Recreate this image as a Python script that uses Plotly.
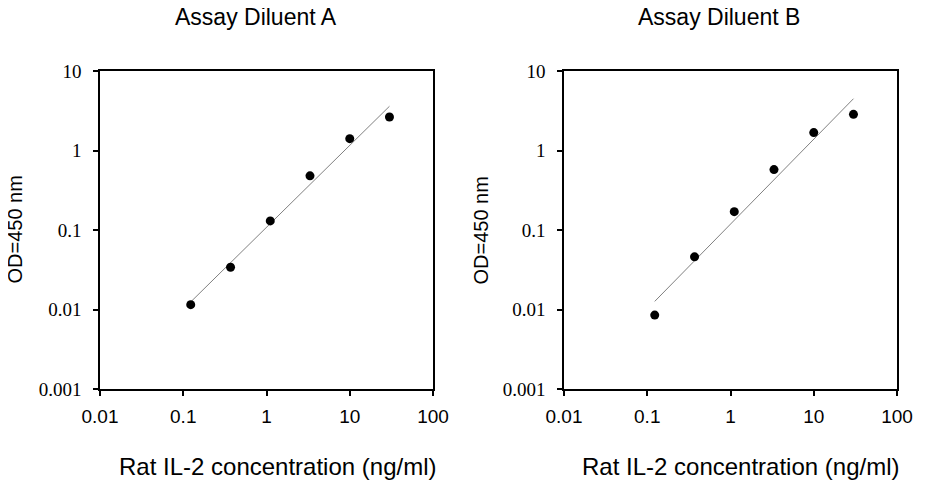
import numpy as np
import plotly.graph_objects as go

# standard curve, 3-fold dilutions (ng/ml)
conc = [0.123, 0.37, 1.11, 3.33, 10, 30]
od_diluent_a = [0.0115, 0.034, 0.13, 0.48, 1.41, 2.64]
od_diluent_b = [0.0085, 0.046, 0.17, 0.575, 1.68, 2.85]

panel_titles = ["Assay Diluent A", "Assay Diluent B"]
x_tickvals = [0.01, 0.1, 1, 10, 100]
x_ticktext = ["0.01", "0.1", "1", "10", "100"]
y_tickvals = [0.001, 0.01, 0.1, 1, 10]
y_ticktext = ["0.001", "0.01", "0.1", "1", "10"]

SANS = "Liberation Sans, Arial, sans-serif"
SERIF = "Liberation Serif, Times New Roman, serif"

# page body has an 8px margin, so the figure is 8px smaller and all
# positions below are screen pixels shifted back by that offset
OFF = 8
W, H = 926 - OFF, 480 - OFF


def px_x(v):
    return (v - OFF) / W


def px_y(v):
    return (H - (v - OFF)) / H


def loglog_fit(x, y):
    # straight line in log-log space, drawn across the data range
    lx, ly = np.log10(x), np.log10(y)
    slope, icpt = np.polyfit(lx, ly, 1)
    xs = np.array([min(x), max(x)])
    return xs, 10 ** (icpt + slope * np.log10(xs))


fig = go.Figure()

panels = [
    {"od": od_diluent_a, "dom": [px_x(100), px_x(433)], "xa": "x", "ya": "y",
     "title_x": 256, "xlab_x": 277, "ylab_x": 14.5},
    {"od": od_diluent_b, "dom": [px_x(564), px_x(897)], "xa": "x2", "ya": "y2",
     "title_x": 719, "xlab_x": 740, "ylab_x": 480.5},
]

annotations = []
for i, p in enumerate(panels):
    fx, fy = loglog_fit(conc, p["od"])
    fig.add_trace(go.Scatter(x=fx, y=fy, mode="lines", xaxis=p["xa"], yaxis=p["ya"],
                             line=dict(color="#808080", width=1), showlegend=False, hoverinfo="skip"))
    fig.add_trace(go.Scatter(x=conc, y=p["od"], mode="markers", xaxis=p["xa"], yaxis=p["ya"],
                             marker=dict(color="black", size=9), showlegend=False))

    suffix = "" if i == 0 else "2"
    fig.layout["xaxis" + suffix] = dict(
        type="log", range=[-2, 2], domain=p["dom"], anchor=p["ya"],
        tickvals=x_tickvals, ticktext=x_ticktext,
        tickfont=dict(family=SANS, size=19, color="black"),
        ticks="outside", ticklen=5, tickwidth=1.5, tickcolor="black",
        showline=True, linecolor="black", linewidth=1.5, mirror=True,
        showgrid=False, zeroline=False, ticklabelstandoff=4, automargin=False,
    )
    fig.layout["yaxis" + suffix] = dict(
        type="log", range=[-3, 1], domain=[px_y(389), px_y(71)], anchor=p["xa"],
        tickvals=y_tickvals, ticktext=y_ticktext,
        tickfont=dict(family=SERIF, size=19, color="black"),
        ticks="outside", ticklen=5, tickwidth=1.5, tickcolor="black",
        showline=True, linecolor="black", linewidth=1.5, mirror=True,
        showgrid=False, zeroline=False, ticklabelstandoff=8, automargin=False,
    )

    annotations.append(dict(text=panel_titles[i], x=px_x(p["title_x"]), y=px_y(17),
                            xref="paper", yref="paper", xanchor="center", yanchor="middle",
                            showarrow=False, font=dict(family=SANS, size=23, color="black")))
    annotations.append(dict(text="Rat IL-2 concentration (ng/ml)", x=px_x(p["xlab_x"]), y=px_y(466),
                            xref="paper", yref="paper", xanchor="center", yanchor="middle",
                            showarrow=False, font=dict(family=SANS, size=24, color="black")))
    annotations.append(dict(text="OD=450 nm", x=px_x(p["ylab_x"]), y=px_y(230), textangle=-90,
                            xref="paper", yref="paper", xanchor="center", yanchor="middle",
                            showarrow=False, font=dict(family=SANS, size=20, color="black")))

fig.update_layout(
    width=W, height=H,
    margin=dict(l=0, r=0, t=0, b=0, autoexpand=False),
    paper_bgcolor="white", plot_bgcolor="white",
    annotations=annotations,
)

fig.write_html("out.html")
